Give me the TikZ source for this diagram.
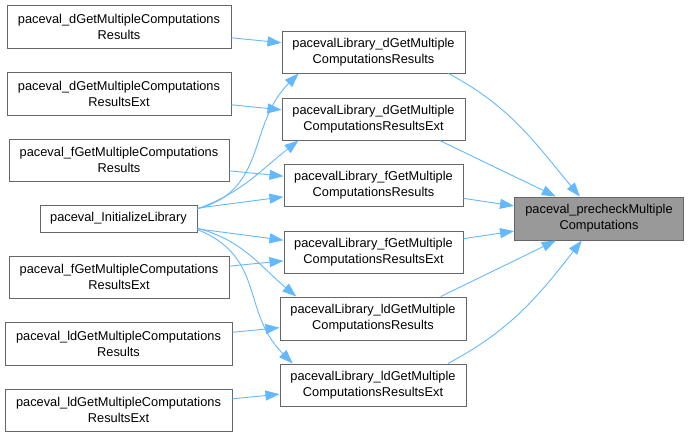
\documentclass[tikz,border=0pt]{standalone}
\usepackage{fontspec}
\setmainfont{Liberation Sans}
\usetikzlibrary{arrows.meta}
\definecolor{edgeblue}{HTML}{63B8FF}
\definecolor{boxline}{HTML}{666666}
\definecolor{rootfill}{HTML}{999999}

\begin{document}
\begin{tikzpicture}[x=1pt, y=-1pt,
    fn/.style={draw=boxline, fill=white, line width=1pt, inner sep=0pt, align=center,
      font=\fontsize{12.8}{16}\selectfont},
    call/.style={draw=edgeblue, line width=0.9pt, -{Triangle[length=14pt,width=10pt]}}]
        \useasboundingbox (0,0) rectangle (690,437);
        % Aufrufer links
        \node[fn, minimum width=224pt, minimum height=43pt] (fnDRes) at (119,26.5)
          {paceval\_dGetMultipleComputations\\Results};
        \node[fn, minimum width=224pt, minimum height=43pt] (fnDResExt) at (119,93.5)
          {paceval\_dGetMultipleComputations\\ResultsExt};
        \node[fn, minimum width=220pt, minimum height=42pt] (fnFRes) at (119,160)
          {paceval\_fGetMultipleComputations\\Results};
        \node[fn, minimum width=157pt, minimum height=27pt] (fnInit) at (118.5,218.5)
          {paceval\_InitializeLibrary};
        \node[fn, minimum width=220pt, minimum height=42pt] (fnFResExt) at (119,277)
          {paceval\_fGetMultipleComputations\\ResultsExt};
        \node[fn, minimum width=227pt, minimum height=43pt] (fnLdRes) at (118.5,343.5)
          {paceval\_ldGetMultipleComputations\\Results};
        \node[fn, minimum width=227pt, minimum height=42pt] (fnLdResExt) at (118.5,410)
          {paceval\_ldGetMultipleComputations\\ResultsExt};
        % Bibliothek
        \node[fn, minimum width=183pt, minimum height=42pt] (libDRes) at (373.5,52)
          {pacevalLibrary\_dGetMultiple\\ComputationsResults};
        \node[fn, minimum width=183pt, minimum height=42pt] (libDResExt) at (373.5,119)
          {pacevalLibrary\_dGetMultiple\\ComputationsResultsExt};
        \node[fn, minimum width=179pt, minimum height=42pt] (libFRes) at (373.5,185)
          {pacevalLibrary\_fGetMultiple\\ComputationsResults};
        \node[fn, minimum width=179pt, minimum height=42pt] (libFResExt) at (373.5,252)
          {pacevalLibrary\_fGetMultiple\\ComputationsResultsExt};
        \node[fn, minimum width=186pt, minimum height=43pt] (libLdRes) at (373,318.5)
          {pacevalLibrary\_ldGetMultiple\\ComputationsResults};
        \node[fn, minimum width=186pt, minimum height=42pt] (libLdResExt) at (373,385)
          {pacevalLibrary\_ldGetMultiple\\ComputationsResultsExt};
        % Ziel
        \node[fn, fill=rootfill, minimum width=169pt, minimum height=43pt] (precheck) at (599,218.5)
          {paceval\_precheckMultiple\\Computations};
        % Aufrufe
        \draw[call] (fnDRes) -- (libDRes);
        \draw[call] (fnDResExt) -- (libDResExt);
        \draw[call] (fnFRes) -- (libFRes);
        \draw[call] (fnFResExt) -- (libFResExt);
        \draw[call] (fnLdRes) -- (libLdRes);
        \draw[call] (fnLdResExt) -- (libLdResExt);
        \draw[call] (fnInit.7) to[out=15, in=225, looseness=1.1] (libDRes.196);
        \draw[call] (fnInit.7) to[out=20, in=218] (libDResExt.196);
        \draw[call] (fnInit) -- (libFRes);
        \draw[call] (fnInit) -- (libFResExt);
        \draw[call] (fnInit.-7) to[out=-15, in=140] (libLdRes.164);
        \draw[call] (fnInit.-8) to[out=-22, in=135, looseness=1.15] (libLdResExt.165);
        \draw[call] (libDRes.-16) to[out=-28, in=130] (precheck.131);
        \draw[call] (libDResExt.-18) -- (precheck.153);
        \draw[call] (libFRes) -- (precheck);
        \draw[call] (libFResExt) -- (precheck);
        \draw[call] (libLdRes.18) -- (precheck.-153);
        \draw[call] (libLdResExt.16) to[out=28, in=-128] (precheck.-128);
      \end{tikzpicture}
\end{document}
